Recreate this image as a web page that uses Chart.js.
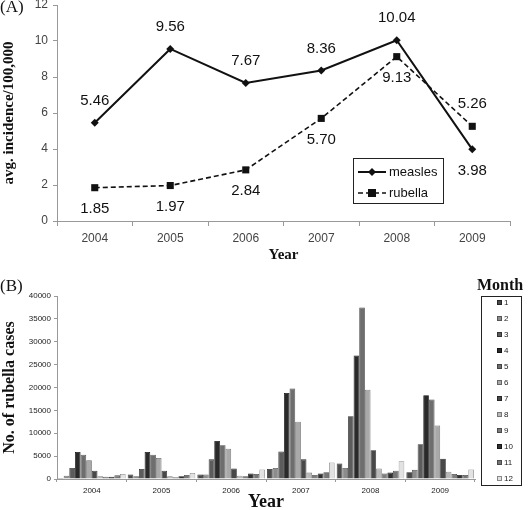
<!DOCTYPE html>
<html>
<head>
<meta charset="utf-8">
<script src="https://cdn.jsdelivr.net/npm/chart.js@4/dist/chart.umd.min.js"></script>
<style>
body { margin:0; background:#fff; width:528px; height:510px; position:relative; overflow:hidden; }
canvas { position:absolute; left:0; }
#c1 { top:0; }
#c2 { top:268px; }
.tag { position:absolute; font:17px "Liberation Serif", serif; color:#111; }
.mon { position:absolute; font:bold 16px "Liberation Serif", serif; color:#111; }
</style>
</head>
<body>
<canvas id="c1" width="528" height="268" style="width:528px;height:268px"></canvas>
<canvas id="c2" width="528" height="242" style="width:528px;height:242px"></canvas>
<div class="tag" style="left:0;top:-3px">(A)</div>
<div class="tag" style="left:0;top:276px">(B)</div>
<div class="mon" style="left:477px;top:276px">Month</div>
<script>
// (A) average incidence per 100,000
var years = ['2004', '2005', '2006', '2007', '2008', '2009'];
var measles = [5.46, 9.56, 7.67, 8.36, 10.04, 3.98];
var rubella = [1.85, 1.97, 2.84, 5.70, 9.13, 5.26];
var measlesSide = ['above', 'above', 'above', 'above', 'above', 'below'];
var rubellaSide = ['below', 'below', 'below', 'below', 'below', 'above'];

// (B) rubella cases by month, one array per month
var months = ['1','2','3','4','5','6','7','8','9','10','11','12'];
var m1  = [200, 1000, 1000, 2200, 3400, 1500];
var m2  = [700, 600, 1000, 2400, 2400, 2000];
var m3  = [2400, 2200, 4300, 6000, 13700, 7600];
var m4  = [5900, 5900, 8300, 18800, 27000, 18300];
var m5  = [5300, 5300, 7400, 19800, 37500, 17400];
var m6  = [4100, 4600, 6600, 12500, 19500, 11700];
var m7  = [1800, 1800, 2300, 4300, 6300, 4400];
var m8  = [600, 600, 700, 1400, 2300, 1600];
var m9  = [500, 400, 600, 900, 1200, 1100];
var m10 = [500, 600, 1200, 1200, 1400, 900];
var m11 = [800, 900, 1100, 1500, 1800, 900];
var m12 = [1100, 1300, 2100, 3600, 3900, 2100];
var monthData = [m1, m2, m3, m4, m5, m6, m7, m8, m9, m10, m11, m12];
var monthFill = ['#4a4a4a','#8c8c8c','#5c5c5c','#2a2a2a','#6e6e6e','#a9a9a9',
                 '#484848','#b9b9b9','#7c7c7c','#303030','#767676','#e2e2e2'];
var monthEdge = ['#262626','#555','#333','#111','#444','#666',
                 '#262626','#777','#4a4a4a','#151515','#4a4a4a','#888'];

var sans = '"Liberation Sans", Arial, sans-serif';
var serif = '"Liberation Serif", "Times New Roman", serif';

// value labels next to the points
var pointLabels = {
  id: 'pointLabels',
  afterDatasetsDraw: function(chart) {
    var ctx = chart.ctx;
    ctx.save();
    ctx.font = '15px ' + sans;
    ctx.fillStyle = '#111';
    ctx.textAlign = 'center';
    ctx.textBaseline = 'middle';
    chart.data.datasets.forEach(function(ds, di) {
      var meta = chart.getDatasetMeta(di);
      meta.data.forEach(function(pt, i) {
        var dy = ds.sides[i] === 'above' ? -22 : 21;
        ctx.fillText(ds.data[i].toFixed(2), pt.x, pt.y + dy);
      });
    });
    ctx.restore();
  }
};

// boxed legend inside the plot
var boxLegend = {
  id: 'boxLegend',
  afterDraw: function(chart) {
    var ctx = chart.ctx;
    ctx.save();
    ctx.fillStyle = '#fff';
    ctx.fillRect(353, 158, 90, 45);
    ctx.strokeStyle = '#222';
    ctx.lineWidth = 1;
    ctx.strokeRect(353.5, 158.5, 90, 45);
    ctx.font = '13px ' + sans;
    ctx.textBaseline = 'middle';
    chart.data.datasets.forEach(function(ds, i) {
      var y = 172 + i * 21;
      ctx.strokeStyle = '#111';
      ctx.lineWidth = ds.borderWidth;
      ctx.setLineDash(ds.borderDash || []);
      ctx.beginPath();
      ctx.moveTo(358, y);
      ctx.lineTo(386, y);
      ctx.stroke();
      ctx.setLineDash([]);
      ctx.fillStyle = '#111';
      if (ds.pointStyle === 'rect') {
        ctx.fillRect(368, y - 4, 8, 8);
      } else {
        ctx.beginPath();
        ctx.moveTo(372, y - 4); ctx.lineTo(376, y); ctx.lineTo(372, y + 4); ctx.lineTo(368, y);
        ctx.closePath();
        ctx.fill();
      }
      ctx.fillText(ds.label, 389, y);
    });
    ctx.restore();
  }
};

new Chart(document.getElementById('c1'), {
  type: 'line',
  data: {
    labels: years,
    datasets: [
      { label: 'measles', data: measles, sides: measlesSide, borderColor: '#111', backgroundColor: '#111',
        borderWidth: 2, pointStyle: 'rectRot', pointRadius: 4, pointBorderWidth: 0, tension: 0 },
      { label: 'rubella', data: rubella, sides: rubellaSide, borderColor: '#111', backgroundColor: '#111',
        borderWidth: 1.6, borderDash: [5, 3], pointStyle: 'rect', pointRadius: 5, pointBorderWidth: 0, tension: 0 }
    ]
  },
  options: {
    responsive: false,
    animation: false,
    layout: { padding: { left: 0, right: 18, top: 5, bottom: 0 } },
    plugins: { legend: { display: false }, tooltip: { enabled: false } },
    scales: {
      x: {
        offset: true,
        grid: { offset: true, drawOnChartArea: false, tickLength: 5, color: '#999' },
        border: { color: '#999' },
        ticks: { font: { size: 12, family: sans }, color: '#444', padding: 5 },
        title: { display: true, text: 'Year', font: { size: 15, weight: 'bold', family: serif }, color: '#111', padding: { top: 2, bottom: 4 } },
        afterFit: function(s) { s.height = 47; }
      },
      y: {
        min: 0, max: 12,
        grid: { drawOnChartArea: false, tickLength: 4, color: '#999' },
        border: { color: '#999' },
        ticks: { stepSize: 2, font: { size: 12, family: sans }, color: '#444', padding: 5 },
        title: { display: true, text: 'avg. incidence/100,000', font: { size: 15, weight: 'bold', family: serif }, color: '#111', padding: 0 },
        afterFit: function(s) { s.width = 57; s.paddingTop = 0; }
      }
    }
  },
  plugins: [pointLabels, boxLegend]
});

// month legend on the right of (B)
var monthLegend = {
  id: 'monthLegend',
  afterDraw: function(chart) {
    var ctx = chart.ctx;
    var top = 28;
    ctx.save();
    ctx.strokeStyle = '#222';
    ctx.lineWidth = 1;
    ctx.strokeRect(481.5, top + 0.5, 40, 189);
    ctx.font = '8px ' + sans;
    ctx.textBaseline = 'middle';
    chart.data.datasets.forEach(function(ds, i) {
      var y = top + 7 + i * 16;
      ctx.fillStyle = ds.backgroundColor;
      ctx.fillRect(497, y - 3, 5, 5);
      ctx.strokeStyle = ds.borderColor;
      ctx.strokeRect(497.5, y - 2.5, 4, 4);
      ctx.fillStyle = '#222';
      ctx.fillText(ds.label, 504, y);
    });
    ctx.restore();
  }
};

new Chart(document.getElementById('c2'), {
  type: 'bar',
  data: {
    labels: years,
    datasets: months.map(function(m, i) {
      return { label: m, data: monthData[i], backgroundColor: monthFill[i], borderColor: monthEdge[i],
               borderWidth: 0.8, categoryPercentage: 0.97, barPercentage: 1 };
    })
  },
  options: {
    responsive: false,
    animation: false,
    layout: { padding: { left: 0, right: 53, top: 28, bottom: 0 } },
    plugins: { legend: { display: false }, tooltip: { enabled: false } },
    scales: {
      x: {
        grid: { offset: true, drawOnChartArea: false, tickLength: 3, color: '#999' },
        border: { color: '#999' },
        ticks: { font: { size: 8, family: sans }, color: '#222', padding: 4 },
        title: { display: true, text: 'Year', font: { size: 18, weight: 'bold', family: serif, lineHeight: 1 }, color: '#111', padding: { top: 0, bottom: -1 } },
        afterFit: function(s) { s.height = 31; }
      },
      y: {
        min: 0, max: 40000,
        grid: { drawOnChartArea: false, tickLength: 3, color: '#999' },
        border: { color: '#999' },
        ticks: { stepSize: 5000, font: { size: 8, family: sans }, color: '#222', padding: 3,
                 callback: function(v) { return String(v); } },
        title: { display: true, text: 'No. of rubella cases', font: { size: 16, weight: 'bold', family: serif }, color: '#111', padding: 0 },
        afterFit: function(s) { s.width = 57; }
      }
    }
  },
  plugins: [monthLegend]
});
</script>
</body>
</html>
